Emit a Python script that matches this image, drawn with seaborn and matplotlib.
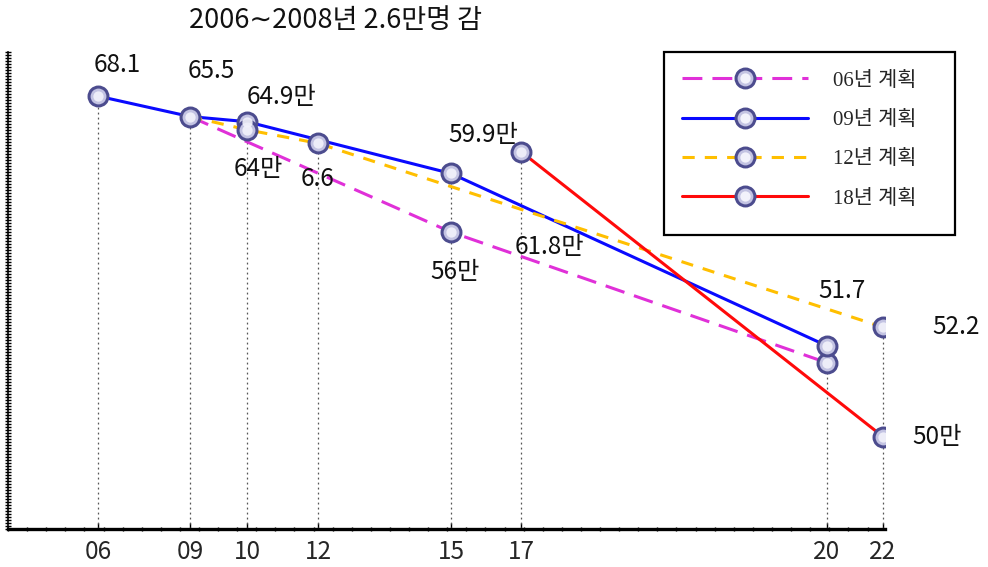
import numpy as np
import pandas as pd
import matplotlib
matplotlib.use("Agg")
import matplotlib.pyplot as plt
import seaborn as sns
from matplotlib.lines import Line2D
from matplotlib.patches import Rectangle
from matplotlib.legend_handler import HandlerTuple
from matplotlib.ticker import FixedLocator, NullLocator

# ---------------- data ----------------
years = [2006, 2009, 2010, 2012, 2015, 2017, 2020, 2022]
year_labels = ["06", "09", "10", "12", "15", "17", "20", "22"]

plan_names = ["06년 계획", "09년 계획", "12년 계획", "18년 계획"]

plan06_years = [2009, 2015, 2020]
plan06_troops = [65.5, 56.0, 51.3]

plan09_years = [2006, 2009, 2010, 2015, 2020]
plan09_troops = [68.1, 65.5, 64.9, 59.9, 51.7]

plan12_years = [2009, 2010, 2012, 2022]
plan12_troops = [65.5, 64.0, 62.6, 52.2]

plan18_years = [2017, 2022]
plan18_troops = [61.8, 50.0]

callout_years = [2006, 2009, 2010, 2010, 2012, 2015, 2015, 2017, 2020, 2022, 2022]
callout_troops = [68.1, 65.5, 64.9, 64.0, 62.6, 59.9, 56.0, 61.8, 51.7, 52.2, 50.0]
callout_texts = ["68.1", "65.5", "64.9만", "64만", "6.6", "59.9만", "56만",
                 "61.8만", "51.7", "52.2", "50만"]

title_text = "2006∼2008년 2.6만명 감"

# ---------------- styling ----------------
plan_colors = {"06년 계획": "#e030d8", "09년 계획": "#0a0aff",
               "12년 계획": "#ffbf00", "18년 계획": "#ff0a0a"}
plan_dashes = {"06년 계획": (6.5, 3.3), "09년 계획": "",
               "12년 계획": (4.0, 3.3), "18년 계획": ""}
callout_offsets = [(19, 31), (21, 46), (35, 25), (11, -39), (0, -36), (32, 38),
                   (4, -40), (28, -95), (15, 55), (73, 0), (54, 0)]

sns.set_theme(style="white")
plt.rcParams["font.family"] = ["Noto Sans CJK KR", "DejaVu Sans"]

W, H = 988, 567
fig = plt.figure(figsize=(W / 100, H / 100), dpi=100)
ax = fig.add_axes([8 / W, 1 - 529 / H, 877 / W, 477 / H])

# ---------------- long-form tables ----------------
series = zip(plan_names,
             [plan06_years, plan09_years, plan12_years, plan18_years],
             [plan06_troops, plan09_troops, plan12_troops, plan18_troops])
lines_df = pd.concat(
    [pd.DataFrame({"plan": n, "year": y, "troops": v}) for n, y, v in series],
    ignore_index=True)
points_df = lines_df[["year", "troops"]].drop_duplicates().reset_index(drop=True)

# ---------------- marks ----------------
sns.lineplot(data=lines_df, x="year", y="troops", hue="plan", style="plan",
             hue_order=plan_names, style_order=plan_names,
             palette=plan_colors, dashes=plan_dashes, linewidth=2.2,
             legend=False, ax=ax, zorder=3)

marker_face, marker_edge, marker_glow = "#c3c3e2", "#4c4c8e", "#f2f2fb"
sns.scatterplot(data=points_df, x="year", y="troops", s=185, color=marker_face,
                edgecolor=marker_edge, linewidth=2.2, zorder=5, ax=ax, legend=False)
sns.scatterplot(data=points_df, x="year", y="troops", s=55, color=marker_glow,
                linewidth=0, alpha=0.9, zorder=6, ax=ax, legend=False)

# ---------------- scales: uneven year axis, compressed head-count axis ----------------
axis_year_knots = [2003.06, 2006, 2009, 2010, 2012, 2015, 2017, 2020, 2022, 2022.07]
axis_px_knots = [0, 90, 182, 239, 310, 443, 513, 819, 875, 877]


def year_fwd(x):
    return np.interp(x, axis_year_knots, axis_px_knots)


def year_inv(p):
    return np.interp(p, axis_px_knots, axis_year_knots)


base = 48.0


def troop_fwd(v):
    return np.log(np.maximum(np.asarray(v, dtype=float) - base, 1e-9))


def troop_inv(u):
    return np.exp(u) + base


ax.set_xscale("function", functions=(year_fwd, year_inv))
ax.set_yscale("function", functions=(troop_fwd, troop_inv))
ax.set_xlim(axis_year_knots[0], axis_year_knots[-1])
y_lo, y_hi = 49.07, 75.1
ax.set_ylim(y_lo, y_hi)

# drop lines from the highest point of each year to the axis
tops = points_df.groupby("year")["troops"].max()
ax.vlines(tops.index, y_lo, tops.values, colors="#555555",
          linestyles=(0, (1.5, 2.5)), linewidth=0.9, zorder=1)

# ---------------- axes cosmetics ----------------
for side in ["top", "right"]:
    ax.spines[side].set_visible(False)
ax.spines["bottom"].set_linewidth(2.4)
ax.spines["left"].set_linewidth(1.2)
ax.spines["bottom"].set_color("black")
ax.spines["left"].set_color("black")

ax.set_xticks(years)
ax.set_xticklabels(year_labels)
ax.xaxis.set_minor_locator(FixedLocator(year_inv(np.arange(0, 877, 19.1))))
ax.yaxis.set_major_locator(NullLocator())
ax.yaxis.set_minor_locator(
    FixedLocator(troop_inv(np.linspace(troop_fwd(y_lo), troop_fwd(y_hi), 160))))
ax.tick_params(axis="x", which="major", direction="in", length=4, width=1,
               color="black", labelsize=17.5, pad=7, bottom=True)
ax.tick_params(axis="x", which="minor", direction="inout", length=3, width=1,
               color="black", bottom=True)
ax.tick_params(axis="y", which="minor", direction="inout", length=4, width=1,
               color="black", left=True)
ax.set_xlabel("")
ax.set_ylabel("")

# ---------------- value callouts ----------------
for yr, v, txt, (dx, dy) in zip(callout_years, callout_troops, callout_texts,
                                callout_offsets):
    ax.annotate(txt, xy=(yr, v), xytext=(dx, dy), textcoords="offset pixels",
                ha="center", va="center", fontsize=17.5, color="#111111",
                zorder=7)

fig.text(335 / W, 1 - 21 / H, title_text, ha="center", va="center",
         fontsize=19.5, color="#111111")

# ---------------- legend ----------------
handles = []
for name in plan_names:
    ln = Line2D([], [], color=plan_colors[name], linewidth=2.2,
                marker="o", markersize=13.6, markerfacecolor=marker_face,
                markeredgecolor=marker_edge, markeredgewidth=2.2)
    if plan_dashes[name]:
        ln.set_dashes(plan_dashes[name])
    else:
        ln.set_linestyle("-")
    glow = Line2D([], [], linestyle="none", marker="o", markersize=7.4,
                  markerfacecolor=marker_glow, markeredgewidth=0)
    handles.append((ln, glow))

leg = fig.legend(handles, plan_names, loc="upper left",
                 bbox_to_anchor=(682 / W, 1 - 71 / H), frameon=False,
                 borderaxespad=0, borderpad=0, handlelength=6.06,
                 handletextpad=1.2, labelspacing=0.95, numpoints=1,
                 handler_map={tuple: HandlerTuple(ndivide=1, pad=0)},
                 prop={"family": ["Liberation Serif", "Noto Sans CJK KR"],
                       "size": 15})
fig.patches.append(Rectangle((664 / W, 1 - 235 / H), (955 - 664) / W,
                             (235 - 52) / H, transform=fig.transFigure,
                             fill=False, edgecolor="black", linewidth=1.6))

fig.savefig("out.png", dpi=100)
